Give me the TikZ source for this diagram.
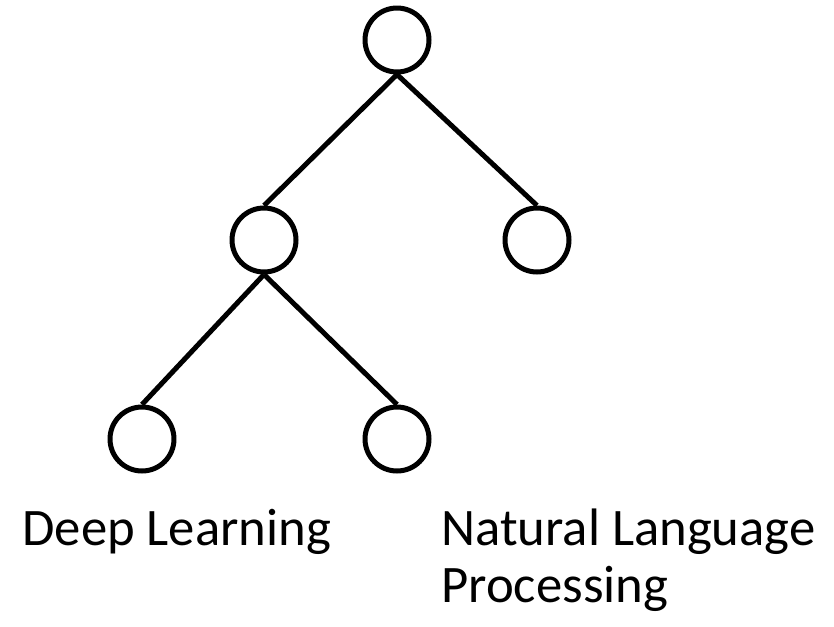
\documentclass[tikz,border=0pt]{standalone}
\usepackage{fontspec}
\setmainfont{Carlito}
\usetikzlibrary{positioning}

\begin{document}
\begin{tikzpicture}[
    x=0.02cm, y=-0.02cm,
    treenode/.style={circle, draw=black, line width=0.1cm, minimum size=1.28cm, inner sep=0pt},
    treeedge/.style={line width=0.1cm, black},
    leaflabel/.style={font=\fontsize{30}{32.4}\selectfont, inner sep=0pt, align=left, anchor=base west},
]
\useasboundingbox (0,0) rectangle (834,626);

% Tree nodes
\node[treenode] (root) at (397,40) {};
\node[treenode] (ml) at (264,240) {};
\node[treenode] (mr) at (537,240) {};
\node[treenode] (bl) at (142,439) {};
\node[treenode] (br) at (397,439) {};

% Edges
\draw[treeedge] (root.south) -- (ml.north);
\draw[treeedge] (root.south) -- (mr.north);
\draw[treeedge] (ml.south) -- (bl.north);
\draw[treeedge] (ml.south) -- (br.north);

% Labels (base anchor of a two-line node sits on its last line)
\node[leaflabel] (dl) at (22,545) {Deep Learning};
\node[leaflabel] (nlp) at (441,602) {Natural Language\\Processing};

\end{tikzpicture}
\end{document}
